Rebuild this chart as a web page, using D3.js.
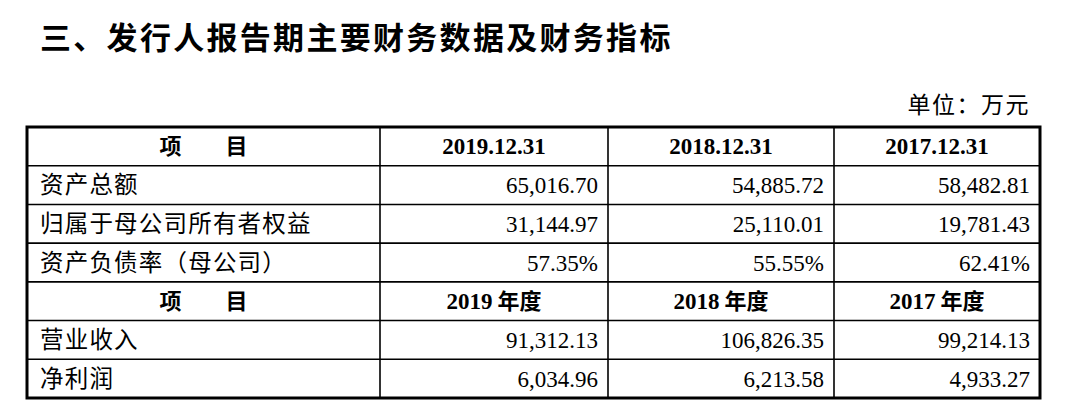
<!DOCTYPE html>
<html><head><meta charset="utf-8">
<script src="https://cdn.jsdelivr.net/npm/d3@7"></script>
<style>body{margin:0;background:#fff}</style>
</head><body>
<svg id="chart" width="1068" height="416"></svg>
<script>
// table content
const title = '三、发行人报告期主要财务数据及财务指标';
const unit = '单位：万元';
const balanceHeaders = ['2019.12.31', '2018.12.31', '2017.12.31'];
const incomeHeaders = ['2019 年度', '2018 年度', '2017 年度'];
const balanceItems = ['资产总额', '归属于母公司所有者权益', '资产负债率（母公司）'];
const balanceValues = [
    ['65,016.70', '54,885.72', '58,482.81'],
    ['31,144.97', '25,110.01', '19,781.43'],
    ['57.35%', '55.55%', '62.41%']
];
const incomeItems = ['营业收入', '净利润'];
const incomeValues = [
    ['91,312.13', '106,826.35', '99,214.13'],
    ['6,034.96', '6,213.58', '4,933.27']
];

const rows = [
    {head: true, label: '项　　目', cells: balanceHeaders},
    ...balanceItems.map((d, i) => ({label: d, cells: balanceValues[i]})),
    {head: true, label: '项　　目', cells: incomeHeaders},
    ...incomeItems.map((d, i) => ({label: d, cells: incomeValues[i]}))
];

const svg = d3.select('#chart');
const cjk = '"Noto Sans CJK SC", sans-serif';
const num = '"Liberation Serif", "Times New Roman", serif';

svg.append('text').attr('x', 40).attr('y', 49)
    .style('font-family', cjk).style('font-weight', 'bold').style('font-size', '31px')
    .style('letter-spacing', '2.3px')
    .text(title);
svg.append('text').attr('x', 1030).attr('y', 113).attr('text-anchor', 'end')
    .style('font-family', cjk).style('font-size', '23px').style('letter-spacing', '1.5px')
    .text(unit);

const colEdges = [27, 380, 608, 834, 1040];
const y = d3.scaleBand().domain(d3.range(rows.length)).range([127, 398]);

const g = svg.append('g');
rows.forEach((r, i) => {
    const cy = y(i) + y.bandwidth() / 2 + 8;
    g.append('text')
        .attr('x', r.head ? (colEdges[0] + colEdges[1]) / 2 : 40)
        .attr('y', cy)
        .attr('text-anchor', r.head ? 'middle' : 'start')
        .style('font-family', cjk).style('font-size', r.head ? '22px' : '23.5px')
        .style('letter-spacing', r.head ? '0px' : '1.2px')
        .style('font-weight', r.head ? 'bold' : 'normal')
        .text(r.label);
    r.cells.forEach((c, j) => {
        const t = g.append('text').attr('y', cy)
            .style('font-family', num).style('font-size', '23px')
            .style('font-weight', r.head ? 'bold' : 'normal');
        if (r.head) {
            t.attr('x', (colEdges[j + 1] + colEdges[j + 2]) / 2).attr('text-anchor', 'middle');
            const m = c.match(/^(\d+)( 年度)?$/);
            if (m) {
                t.append('tspan').text(m[1]);
                t.append('tspan').style('font-family', cjk).style('font-size', '22px').text(m[2]);
            } else t.text(c);
        } else {
            t.attr('x', colEdges[j + 2] - 10).attr('text-anchor', 'end').text(c);
        }
    });
});

// grid lines
d3.range(1, rows.length).forEach(i => {
    g.append('line').attr('x1', colEdges[0]).attr('x2', colEdges[4])
        .attr('y1', y(i)).attr('y2', y(i)).attr('stroke', '#000').attr('stroke-width', 1.6);
});
colEdges.slice(1, 4).forEach(x => {
    g.append('line').attr('x1', x).attr('x2', x).attr('y1', 127).attr('y2', 398)
        .attr('stroke', '#000').attr('stroke-width', 1.6);
});
g.append('rect').attr('x', colEdges[0]).attr('y', 127)
    .attr('width', colEdges[4] - colEdges[0]).attr('height', 271)
    .attr('fill', 'none').attr('stroke', '#000').attr('stroke-width', 3);
</script>
</body></html>
